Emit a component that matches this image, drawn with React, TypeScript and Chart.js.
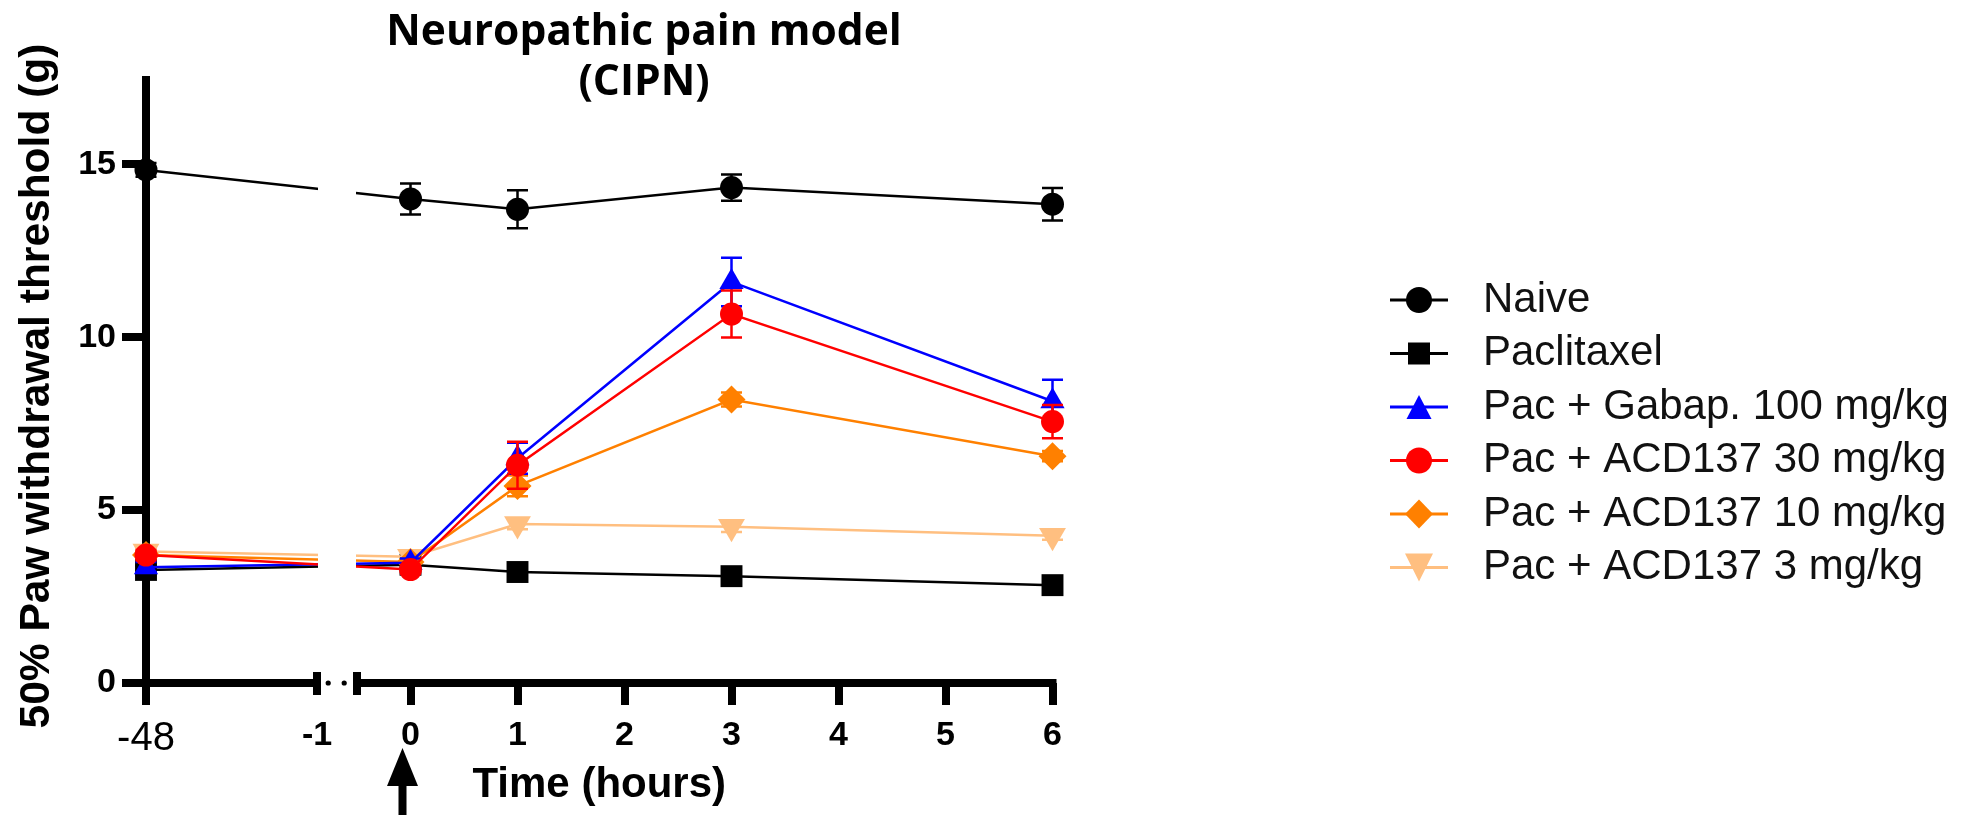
import React, { useEffect, useRef } from 'react';
import { Chart, registerables, LinearScale } from 'chart.js';

// ---------------- data ----------------
const TIMES_H = [-48, 0, 1, 3, 6];
const X_TICKS = [-48, -1, 0, 1, 2, 3, 4, 5, 6];
const Y_TICKS = [0, 5, 10, 15];
const Y_MAX = 17.44;

const TITLE_LINES = ['Neuropathic pain model', '(CIPN)'];
const Y_TITLE = '50% Paw withdrawal threshold (g)';
const X_TITLE = 'Time (hours)';

const SERIES_LABELS = [
  'Naive',
  'Paclitaxel',
  'Pac + Gabap. 100 mg/kg',
  'Pac + ACD137 30 mg/kg',
  'Pac + ACD137 10 mg/kg',
  'Pac + ACD137 3 mg/kg',
];

const NAIVE = [14.84, 14.0, 13.7, 14.33, 13.85];
const NAIVE_SEM = [0.2, 0.45, 0.55, 0.38, 0.47];
const PACLITAXEL = [3.27, 3.42, 3.21, 3.09, 2.83];
const PACLITAXEL_SEM = [0.12, 0.1, 0.12, 0.1, 0.12];
const GABAP_100 = [3.35, 3.48, 6.5, 11.6, 8.15];
const GABAP_100_SEM = [0.15, 0.12, 0.45, 0.7, 0.62];
const ACD137_30 = [3.7, 3.28, 6.3, 10.67, 7.56];
const ACD137_30_SEM = [0.15, 0.12, 0.68, 0.68, 0.48];
const ACD137_10 = [3.7, 3.5, 5.7, 8.2, 6.56];
const ACD137_10_SEM = [0.12, 0.1, 0.3, 0.2, 0.15];
const ACD137_3 = [3.8, 3.65, 4.6, 4.52, 4.26];
const ACD137_3_SEM = [0.1, 0.1, 0.15, 0.15, 0.12];

const SERIES_VALUES = [NAIVE, PACLITAXEL, GABAP_100, ACD137_30, ACD137_10, ACD137_3];
const SERIES_SEM = [NAIVE_SEM, PACLITAXEL_SEM, GABAP_100_SEM, ACD137_30_SEM, ACD137_10_SEM, ACD137_3_SEM];

// ---------------- styles ----------------
const SANS = '"Liberation Sans", Arial, Helvetica, sans-serif';
const TITLE_FONT = '"Open Sans", "Liberation Sans", sans-serif';

const COLORS = ['#000000', '#000000', '#0000FF', '#FF0000', '#FF8000', '#FFBF80'];
const POINT_STYLES = ['circle', 'rect', 'triangle', 'circle', 'rectRot', 'triangle'];
const POINT_RADII = [11.5, 15.5, 14, 11.5, 14, 15.5];
const POINT_ROTATIONS = [0, 0, 0, 0, 0, 180];
const DRAW_ORDER = [5, 4, 1, 0, 2, 3];
const LEGEND_SHAPES = ['circle', 'rect', 'triangle', 'circle', 'diamond', 'triangleDown'];
const LEGEND_SIZES = [[26, 26], [22, 22], [25, 24], [26, 26], [28, 29], [28, 28]];

// axis break layout: first segment ends at -1 h, second starts at -0.5 h
const BREAK_LEFT = -1;
const BREAK_RIGHT = -0.5;
const SEG1_SHARE = 171 / 906.5;
const GAP_SHARE = 40 / 906.5;

function toDecimal(v: number, min: number, max: number) {
  if (v <= BREAK_LEFT) return (SEG1_SHARE * (v - min)) / (BREAK_LEFT - min);
  if (v >= BREAK_RIGHT)
    return SEG1_SHARE + GAP_SHARE + ((1 - SEG1_SHARE - GAP_SHARE) * (v - BREAK_RIGHT)) / (max - BREAK_RIGHT);
  return SEG1_SHARE + (GAP_SHARE * (v - BREAK_LEFT)) / (BREAK_RIGHT - BREAK_LEFT);
}

class BrokenAxisScale extends LinearScale {
  static id = 'brokenAxis';
  static defaults = {};
  buildTicks() {
    return X_TICKS.map((value) => ({ value }));
  }
  getPixelForValue(value: number) {
    return this.getPixelForDecimal(toDecimal(value, this.min, this.max));
  }
  getValueForPixel(pixel: number) {
    const d = this.getDecimalForPixel(pixel);
    if (d <= SEG1_SHARE) return this.min + (d / SEG1_SHARE) * (BREAK_LEFT - this.min);
    if (d >= SEG1_SHARE + GAP_SHARE)
      return BREAK_RIGHT + ((d - SEG1_SHARE - GAP_SHARE) / (1 - SEG1_SHARE - GAP_SHARE)) * (this.max - BREAK_RIGHT);
    return BREAK_LEFT + ((d - SEG1_SHARE) / GAP_SHARE) * (BREAK_RIGHT - BREAK_LEFT);
  }
}

Chart.register(...registerables, BrokenAxisScale as any);

function drawMarker(ctx: CanvasRenderingContext2D, shape: string, x: number, y: number, w: number, h: number) {
  ctx.beginPath();
  if (shape === 'circle') {
    ctx.arc(x, y, w / 2, 0, Math.PI * 2);
  } else if (shape === 'rect') {
    ctx.rect(x - w / 2, y - h / 2, w, h);
  } else if (shape === 'triangle') {
    ctx.moveTo(x, y - h / 2);
    ctx.lineTo(x + w / 2, y + h / 2);
    ctx.lineTo(x - w / 2, y + h / 2);
    ctx.closePath();
  } else if (shape === 'triangleDown') {
    ctx.moveTo(x - w / 2, y - h / 2);
    ctx.lineTo(x + w / 2, y - h / 2);
    ctx.lineTo(x, y + h / 2);
    ctx.closePath();
  } else if (shape === 'diamond') {
    ctx.moveTo(x, y - h / 2);
    ctx.lineTo(x + w / 2, y);
    ctx.lineTo(x, y + h / 2);
    ctx.lineTo(x - w / 2, y);
    ctx.closePath();
  }
  ctx.fill();
}

const errorBars = {
  id: 'errorBars',
  beforeDatasetDraw(chart: any, args: any) {
    const i = args.index;
    const sem = SERIES_SEM[i];
    const vals = SERIES_VALUES[i];
    if (!sem) return;
    const { ctx } = chart;
    const xs = chart.scales.x;
    const ys = chart.scales.y;
    ctx.save();
    ctx.strokeStyle = COLORS[i];
    ctx.lineWidth = 2.5;
    const half = 10.5;
    TIMES_H.forEach((t, k) => {
      const e = sem[k];
      if (!e) return;
      const x = xs.getPixelForValue(t);
      const yt = ys.getPixelForValue(vals[k] + e);
      const yb = ys.getPixelForValue(vals[k] - e);
      ctx.beginPath();
      ctx.moveTo(x, yt);
      ctx.lineTo(x, yb);
      ctx.moveTo(x - half, yt);
      ctx.lineTo(x + half, yt);
      ctx.moveTo(x - half, yb);
      ctx.lineTo(x + half, yb);
      ctx.stroke();
    });
    ctx.restore();
  },
};

const decorations = {
  id: 'decorations',
  afterDatasetsDraw(chart: any) {
    const { ctx, chartArea } = chart;
    const xs = chart.scales.x;
    const ys = chart.scales.y;
    const y0 = ys.getPixelForValue(0);
    const pL = xs.getPixelForValue(BREAK_LEFT);
    const pR = xs.getPixelForValue(BREAK_RIGHT);
    ctx.save();
    // gap of the broken axis cuts the lines
    ctx.fillStyle = '#ffffff';
    ctx.fillRect(pL + 1, chartArea.top, pR - pL - 2, y0 - 14 - chartArea.top);
    // x axis line in two segments
    ctx.strokeStyle = '#000';
    ctx.lineWidth = 8;
    ctx.lineCap = 'butt';
    ctx.beginPath();
    ctx.moveTo(xs.getPixelForValue(X_TICKS[0]), y0);
    ctx.lineTo(pL + 4, y0);
    ctx.moveTo(pR - 4, y0);
    ctx.lineTo(xs.getPixelForValue(X_TICKS[X_TICKS.length - 1]) + 4, y0);
    ctx.stroke();
    // break end marks
    ctx.beginPath();
    ctx.moveTo(pL, y0 - 11);
    ctx.lineTo(pL, y0 + 12);
    ctx.moveTo(pR, y0 - 11);
    ctx.lineTo(pR, y0 + 12);
    ctx.stroke();
    // dots
    ctx.fillStyle = '#000';
    [0.28, 0.68].forEach((f) => {
      ctx.beginPath();
      ctx.arc(pL + f * (pR - pL), y0, 2.6, 0, Math.PI * 2);
      ctx.fill();
    });
    ctx.restore();
  },
  afterDraw(chart: any) {
    const { ctx } = chart;
    const xs = chart.scales.x;
    ctx.save();
    ctx.fillStyle = '#000';
    // title
    ctx.font = `bold 42.5px ${TITLE_FONT}`;
    ctx.textAlign = 'center';
    ctx.textBaseline = 'alphabetic';
    ctx.fillText(TITLE_LINES[0], 644, 45);
    ctx.fillText(TITLE_LINES[1], 644, 95);
    // x title
    ctx.font = `bold 42px ${SANS}`;
    ctx.fillText(X_TITLE, (xs.left + xs.right) / 2, 797);
    // y title
    ctx.save();
    ctx.translate(37, 386);
    ctx.rotate(-Math.PI / 2);
    ctx.font = `bold 42.5px ${SANS}`;
    ctx.textBaseline = 'middle';
    ctx.fillText(Y_TITLE, 0, 0);
    ctx.restore();
    // arrow (treatment at t = 0)
    const ax = xs.getPixelForValue(0) - 8;
    ctx.beginPath();
    ctx.moveTo(ax, 748);
    ctx.lineTo(ax + 15.5, 786);
    ctx.lineTo(ax - 15.5, 786);
    ctx.closePath();
    ctx.fill();
    ctx.fillRect(ax - 4, 785, 8, 30);
    // legend
    const lineX0 = 1390;
    const lineX1 = 1448;
    const markX = 1419;
    const textX = 1483;
    const rowY0 = 300;
    const rowDy = 53.5;
    ctx.font = `42px ${SANS}`;
    ctx.textAlign = 'left';
    ctx.textBaseline = 'middle';
    SERIES_LABELS.forEach((label, i) => {
      const y = rowY0 + i * rowDy;
      ctx.strokeStyle = COLORS[i];
      ctx.fillStyle = COLORS[i];
      ctx.lineWidth = 3;
      ctx.beginPath();
      ctx.moveTo(lineX0, y);
      ctx.lineTo(lineX1, y);
      ctx.stroke();
      drawMarker(ctx, LEGEND_SHAPES[i], markX, y, LEGEND_SIZES[i][0], LEGEND_SIZES[i][1]);
      ctx.fillStyle = '#111';
      ctx.fillText(label, textX, y);
    });
    ctx.restore();
  },
};

export default function App() {
  const ref = useRef<HTMLCanvasElement | null>(null);
  useEffect(() => {
    if (!ref.current) return;
    const datasets = SERIES_LABELS.map((label, i) => ({
      label,
      data: TIMES_H.map((t, k) => ({ x: t, y: SERIES_VALUES[i][k] })),
      borderColor: COLORS[i],
      backgroundColor: COLORS[i],
      pointBackgroundColor: COLORS[i],
      pointBorderColor: COLORS[i],
      pointBorderWidth: 0,
      borderWidth: 2.5,
      pointStyle: POINT_STYLES[i],
      pointRadius: POINT_RADII[i],
      pointRotation: POINT_ROTATIONS[i],
      pointHoverRadius: POINT_RADII[i],
      tension: 0,
      order: DRAW_ORDER[i],
      clip: false as any,
    }));
    const chart = new Chart(ref.current, {
      type: 'line',
      data: { datasets },
      options: {
        responsive: false,
        animation: false,
        events: [],
        layout: { padding: { left: 0, top: 80, right: 1974 - 1052.5, bottom: 0 } },
        plugins: { legend: { display: false }, tooltip: { enabled: false }, title: { display: false } },
        scales: {
          x: {
            type: 'brokenAxis' as any,
            min: X_TICKS[0],
            max: X_TICKS[X_TICKS.length - 1],
            afterFit: (s: any) => {
              s.height = 132;
            },
            border: { display: false },
            grid: {
              drawOnChartArea: false,
              drawTicks: true,
              tickLength: 22,
              lineWidth: 8,
              tickWidth: 8,
              tickColor: (c: any) => (c.tick && c.tick.value === BREAK_LEFT ? 'rgba(0,0,0,0)' : '#000'),
            },
            ticks: {
              autoSkip: false,
              maxRotation: 0,
              minRotation: 0,
              color: '#000',
              padding: 10,
              font: (c: any) =>
                c.tick && c.tick.value === X_TICKS[0]
                  ? { family: SANS, size: 40, weight: 'normal' }
                  : { family: SANS, size: 34, weight: 'bold' },
              callback: (v: any) => String(v),
            },
          } as any,
          y: {
            type: 'linear',
            min: 0,
            max: Y_MAX,
            afterBuildTicks: (s: any) => {
              s.ticks = Y_TICKS.map((value) => ({ value }));
            },
            afterFit: (s: any) => {
              s.width = 146;
            },
            border: { display: true, color: '#000', width: 8 },
            grid: {
              drawOnChartArea: false,
              drawTicks: true,
              tickLength: 24,
              lineWidth: 8,
              tickWidth: 8,
              tickColor: '#000',
            },
            ticks: {
              color: '#000',
              padding: 6,
              font: { family: SANS, size: 34, weight: 'bold' },
              callback: (v: any) => String(v),
            },
          },
        },
      },
      plugins: [errorBars, decorations],
    } as any);
    return () => chart.destroy();
  }, []);
  return (
    <div style={{ position: 'absolute', left: 0, top: 0, width: 1974, height: 815, background: '#ffffff' }}>
      <canvas ref={ref} width={1974} height={815} style={{ display: 'block', width: 1974, height: 815 }} />
    </div>
  );
}
